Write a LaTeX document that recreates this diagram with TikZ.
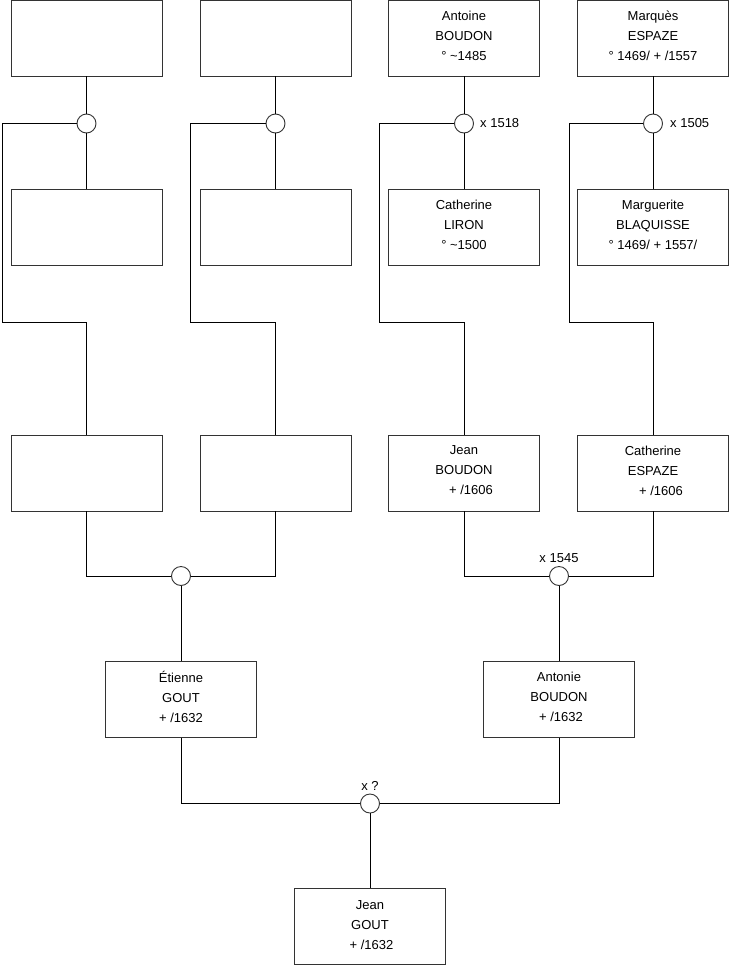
\documentclass[tikz,border=0pt]{standalone}
\usepackage{fontspec}
\setmainfont{Liberation Sans}
\newcommand{\upfix}{\\[-15pt]\mbox{}}
\newcommand{\upfixsmall}{\\[-19pt]\mbox{}}
\begin{document}
\begin{tikzpicture}[x=1pt,y=-1pt,
  person/.style={draw=black!80, line width=0.9pt, fill=white, minimum width=151pt, minimum height=76pt, inner sep=0pt, align=center, font=\fontsize{13}{20}\selectfont},
  union/.style={draw=black!80, line width=0.9pt, circle, fill=white, minimum size=19pt, inner sep=0pt},
  link/.style={line width=0.9pt, black},
  lbl/.style={font=\fontsize{13}{14}\selectfont, inner sep=0pt}]
\useasboundingbox (0,0) rectangle (740,975);
% top row
\node[person] (A1) at (86.5,38) {};
\node[person] (A2) at (275.5,38) {};
\node[person] (A3) at (464,38) {Antoine\\BOUDON\\° \textasciitilde1485\upfix};
\node[person] (A4) at (653,38) {Marquès\\ESPAZE\\° 1469/ + /1557\upfix};
% second row
\node[person] (B1) at (86.5,227.5) {};
\node[person] (B2) at (275.5,227.5) {};
\node[person] (B3) at (464,227.5) {Catherine\\LIRON\\° \textasciitilde1500\upfix};
\node[person] (B4) at (653,227.5) {Marguerite\\BLAQUISSE\\° 1469/ + 1557/\upfix};
% unions top
\node[union] (u1) at (86.5,123.5) {};
\node[union] (u2) at (275.5,123.5) {};
\node[union] (u3) at (464,123.5) {};
\node[union] (u4) at (653,123.5) {};
\node[lbl, anchor=west] (l3) at (480,123.5) {x 1518};
\node[lbl, anchor=west] (l4) at (670,123.5) {x 1505};
% third row
\node[person] (C1) at (86.5,473) {};
\node[person] (C2) at (275.5,473) {};
\node[person] (C3) at (464,473) {Jean\\BOUDON\\\hspace*{14pt}+ /1606\upfix};
\node[person] (C4) at (653,473) {Catherine\\ESPAZE\\\hspace*{16pt}+ /1606\upfix};
% coordinates of the left bends
\coordinate (k1) at (2,322);
\coordinate (k2) at (190.5,322);
\coordinate (k3) at (379.5,322);
\coordinate (k4) at (569.5,322);
% connectors top
\foreach \i in {1,2,3,4}{
  \draw[link] (A\i.south) -- (u\i.north);
  \draw[link] (u\i.south) -- (B\i.north);
  \draw[link] (u\i.west) -| (k\i) -- (k\i -| C\i.north) -- (C\i.north);
}
% fourth row
\node[union] (m1) at (181,576) {};
\node[union] (m2) at (559,576) {};
\node[lbl] (l5) at (559,558) {x 1545};
\node[person] (E1) at (181,699.5) {Étienne\\GOUT\\+ /1632\upfix};
\node[person] (E2) at (559,699.5) {Antonie\\BOUDON\\\hspace*{4pt}+ /1632\upfix};
\draw[link] (C1.south) |- (m1.west);
\draw[link] (C2.south) |- (m1.east);
\draw[link] (m1.south) -- (E1.north);
\draw[link] (C3.south) |- (m2.west);
\draw[link] (C4.south) |- (m2.east);
\draw[link] (m2.south) -- (E2.north);
% bottom
\node[union] (m3) at (370,803.5) {};
\node[lbl] (l6) at (370,786) {x ?};
\node[person] (F) at (370,926) {Jean\\GOUT\\\hspace*{3pt}+ /1632\upfixsmall};
\draw[link] (E1.south) |- (m3.west);
\draw[link] (E2.south) |- (m3.east);
\draw[link] (m3.south) -- (F.north);
\end{tikzpicture}
\end{document}
